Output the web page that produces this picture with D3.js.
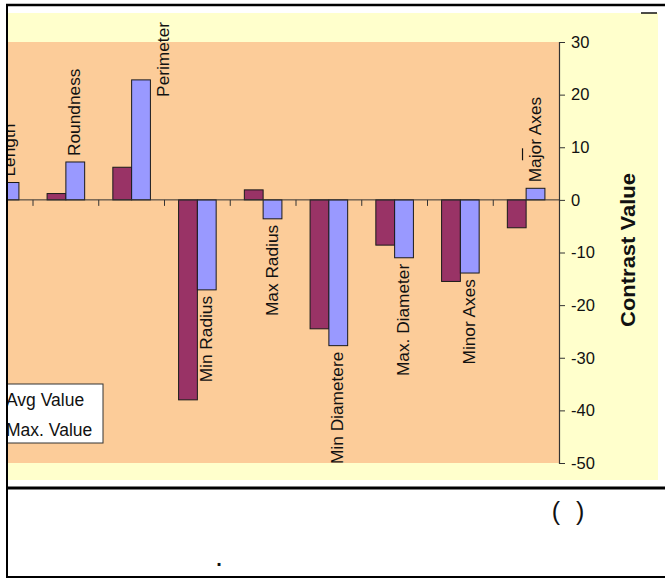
<!DOCTYPE html>
<html>
<head>
<meta charset="utf-8">
<script src="https://cdn.jsdelivr.net/npm/d3@7"></script>
<style>
  html, body { margin: 0; padding: 0; background: #ffffff; }
  svg { display: block; }
  text { font-family: "Liberation Sans", Arial, sans-serif; }
</style>
</head>
<body>
<script>
// Shape descriptors and their contrast values
const categories = ["Length", "Roundness", "Perimeter", "Min Radius", "Max Radius",
                    "Min Diametere", "Max. Diameter", "Minor Axes", "Major Axes"];
const avgValues = [1.5, 1.2, 6.2, -38.0, 1.9, -24.5, -8.6, -15.5, -5.3];
const maxValues = [3.3, 7.2, 22.8, -17.1, -3.6, -27.7, -11.0, -13.9, 2.2];
const seriesNames = ["Avg Value", "Max. Value"];
const seriesColors = ["#993366", "#9999FF"];
const yTicks = [30, 20, 10, 0, -10, -20, -30, -40, -50];
const yTitle = "Contrast Value";

const W = 665, H = 578;
const svg = d3.select("body").append("svg").attr("width", W).attr("height", H);

// chart frame
const frame = { left: 8, top: 13, right: 658, bottom: 480 };
const plot = { left: 8, top: 42, right: 559, bottom: 463 };

svg.append("defs").append("clipPath").attr("id", "chartClip")
  .append("rect")
  .attr("x", frame.left).attr("y", 0)
  .attr("width", frame.right - frame.left).attr("height", frame.bottom);

const g = svg.append("g").attr("clip-path", "url(#chartClip)");

g.append("rect")
  .attr("x", frame.left).attr("y", frame.top)
  .attr("width", frame.right - frame.left).attr("height", frame.bottom - frame.top)
  .attr("fill", "#FFFFCC");

g.append("rect")
  .attr("x", plot.left).attr("y", plot.top)
  .attr("width", plot.right - plot.left).attr("height", plot.bottom - plot.top)
  .attr("fill", "#FCCC99");

// scales: the first category sits partly beyond the left edge of the frame
const step = 65.75;
const x = d3.scaleBand()
  .domain(categories)
  .range([plot.right - step * categories.length, plot.right])
  .paddingInner(0).paddingOuter(0);

const y = d3.scaleLinear().domain([-50, 30]).range([plot.bottom, plot.top]);

const barW = x.bandwidth() / 3.5;
const series = [avgValues, maxValues];

// bars
series.forEach((vals, si) => {
  g.append("g").selectAll("rect")
    .data(categories.map((c, i) => ({ c, v: vals[i] })))
    .join("rect")
    .attr("x", d => x(d.c) + x.bandwidth() / 2 - barW + si * barW)
    .attr("y", d => y(Math.max(0, d.v)))
    .attr("width", barW)
    .attr("height", d => Math.abs(y(d.v) - y(0)))
    .attr("fill", seriesColors[si])
    .attr("stroke", "#1a1a1a")
    .attr("stroke-width", 1);
});

// category axis along zero
const xAxis = g.append("g").attr("transform", `translate(0,${y(0)})`);
xAxis.append("line")
  .attr("x1", plot.left).attr("x2", plot.right)
  .attr("stroke", "#333").attr("stroke-width", 1);
xAxis.selectAll(".tk")
  .data(categories.slice(1))
  .join("line")
  .attr("x1", d => x(d)).attr("x2", d => x(d))
  .attr("y1", 0).attr("y2", 6)
  .attr("stroke", "#333");

// value axis on the right
const yAxis = g.append("g").attr("transform", `translate(${plot.right},0)`)
  .call(d3.axisRight(y).tickValues(yTicks).tickSize(6).tickPadding(6)
        .tickFormat(d => d3.format("d")(d).replace("−", "-")));
yAxis.select(".domain").attr("stroke", "#333").attr("stroke-width", 1.2);
yAxis.selectAll(".tick line").attr("stroke", "#333");
yAxis.selectAll(".tick text")
  .attr("font-family", "Liberation Sans, Arial, sans-serif")
  .attr("font-size", 16.5).attr("fill", "#111");

g.append("text")
  .attr("transform", `translate(635,250) rotate(-90)`)
  .attr("text-anchor", "middle")
  .attr("font-size", 19.5).attr("font-weight", "bold").attr("fill", "#111")
  .attr("textLength", 154).attr("lengthAdjust", "spacingAndGlyphs")
  .text(yTitle);

// category labels next to the Max. Value bars
const labelFont = 17.3;
const lbl = g.append("g");
categories.forEach((c, i) => {
  const v = maxValues[i];
  const cx = x(c) + x.bandwidth() / 2 + barW / 2;
  const t = lbl.append("text")
    .attr("font-size", labelFont).attr("fill", "#111")
    .text(c);
  const len = t.node().getComputedTextLength();
  if (v >= 0) {
    let bx = cx + 5, by = y(v) - 6;
    if (by - len < plot.top) {
      // not enough room above: set beside the bar
      bx = cx + barW / 2 + 19;
      by = y(v) + 17;
    }
    t.attr("text-anchor", "start").attr("transform", `translate(${bx},${by}) rotate(-90)`);
    if (c === "Major Axes") {
      lbl.append("line")
        .attr("x1", bx - 18).attr("x2", bx - 18)
        .attr("y1", by - 34).attr("y2", by - 22)
        .attr("stroke", "#111").attr("stroke-width", 1.2);
    }
  } else {
    t.attr("text-anchor", "end").attr("transform", `translate(${cx + 5},${y(v) + 6}) rotate(-90)`);
  }
});

// legend (keys fall beyond the left edge)
const leg = g.append("g");
leg.append("rect")
  .attr("x", -40).attr("y", 384).attr("width", 143).attr("height", 59)
  .attr("fill", "#ffffff").attr("stroke", "#333").attr("stroke-width", 1);
seriesNames.forEach((s, i) => {
  leg.append("rect")
    .attr("x", -26).attr("y", 394 + i * 30).attr("width", 9).attr("height", 9)
    .attr("fill", seriesColors[i]).attr("stroke", "#111");
  leg.append("text")
    .attr("x", 6).attr("y", 406 + i * 30)
    .attr("font-size", 17.5).attr("fill", "#111")
    .text(s);
});

// small stray mark at the top right of the frame
svg.append("line").attr("x1", 641).attr("x2", 657).attr("y1", 13).attr("y2", 13)
  .attr("stroke", "#111").attr("stroke-width", 1.5);

// outer rules
const rule = (x1, y1, x2, y2, w) => svg.append("line")
  .attr("x1", x1).attr("y1", y1).attr("x2", x2).attr("y2", y2)
  .attr("stroke", "#000").attr("stroke-width", w);
rule(6, 5, W, 5, 2.5);
rule(7, 4, 7, 578, 2);
rule(6, 488, W, 488, 3);
rule(6, 577, W, 577, 2);

// caption row below the chart
svg.append("text").attr("x", 568).attr("y", 520)
  .attr("text-anchor", "middle").attr("font-size", 25).attr("fill", "#111")
  .attr("font-family", "DejaVu Sans, sans-serif")
  .attr("word-spacing", 9)
  .text("( )");
svg.append("text").attr("x", 219).attr("y", 566)
  .attr("text-anchor", "middle").attr("font-size", 20).attr("font-weight", "bold").attr("fill", "#111")
  .text(".");
</script>
</body>
</html>
